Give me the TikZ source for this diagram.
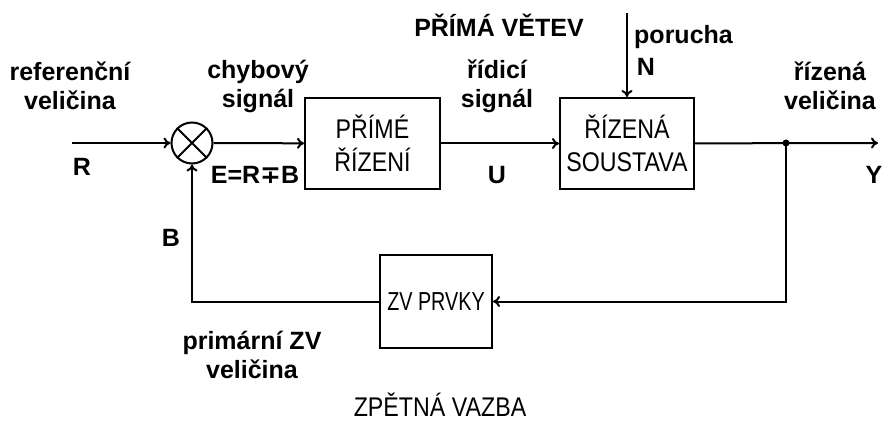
\documentclass[tikz,border=0pt]{standalone}
\usepackage{fontspec}
\setmainfont{Liberation Sans}
\newfontfamily\narrowfont[FakeStretch=0.86]{Liberation Sans}
\newfontfamily\narrowerfont[FakeStretch=0.76]{Liberation Sans}
\newfontfamily\symfont{DejaVu Sans}
\usetikzlibrary{arrows.meta}
\tikzset{
  block/.style={draw, line width=2pt, minimum width=135pt, minimum height=91pt,
    align=center, font=\narrowfont\fontsize{27}{33}\selectfont},
  lbl/.style={align=center, inner sep=0pt, font=\bfseries\fontsize{25}{29}\selectfont},
  sig/.style={line width=2pt, -{To[length=7pt,width=11pt]}},
}
\begin{document}
\begin{tikzpicture}[x=1pt, y=-1pt]
    \useasboundingbox (0,0) rectangle (888,422);

    % Draw the summing point and the blocks
    \node[draw, circle, line width=2pt, minimum size=41pt, inner sep=0pt] (sum) at (192,143) {};
    \draw[line width=2pt] (sum.north west) -- (sum.south east) (sum.north east) -- (sum.south west);
    \node[block] (ctrl) at (372.5,143.5) {PŘÍMÉ\\ŘÍZENÍ};
    \node[block, minimum width=134pt] (plant) at (627,143.5) {ŘÍZENÁ\\SOUSTAVA};
    \node[block, minimum width=112pt, minimum height=93pt,
      font=\narrowerfont\fontsize{26}{30}\selectfont] (zv) at (436,301.5) {ZV PRVKY};

    % Free ends of the signals
    \coordinate (in) at (72,143);
    \coordinate (out) at (878,143);
    \coordinate (dist) at (627,13);
    \coordinate (split) at (786,143);

    % Draw the signals
    \draw[sig] (in) -- (sum);
    \draw[sig] (sum) -- (ctrl);
    \draw[sig] (ctrl) -- (plant);
    \draw[sig] (dist) -- (plant);
    \draw[sig] (plant) -- (out);
    \fill (split) circle (3.5pt);
    \draw[sig] (split) |- (zv.east);
    \draw[sig] (zv.west) -| (sum.south);

    % Label the signals
    \node[lbl] (refLbl) at (70,86) {referenční\\veličina};
    \node[lbl] (rLbl) at (82,167) {R};
    \node[lbl] (errLbl) at (258,86) {chybový\\signál};
    \node[lbl] (eLbl) at (255,175) {E=R{\symfont∓}B};
    \node[lbl] (uTxt) at (497,86) {řídicí\\signál};
    \node[lbl] (uLbl) at (497,175) {U};
    \node[lbl] (fwdLbl) at (499,25) {PŘÍMÁ VĚTEV};
    \node[lbl, anchor=west] (distLbl) at (634,37) {porucha};
    \node[lbl] (nLbl) at (646,67) {N};
    \node[lbl] (yTxt) at (830,86) {řízená\\veličina};
    \node[lbl] (yLbl) at (874,175) {Y};
    \node[lbl] (bLbl) at (171,238) {B};
    \node[lbl] (bTxt) at (252,355) {primární ZV\\veličina};
    \node[anchor=base, inner sep=0pt, font=\narrowfont\fontsize{27}{33}\selectfont] (fbLbl) at (440,416) {ZPĚTNÁ VAZBA};
\end{tikzpicture}
\end{document}
